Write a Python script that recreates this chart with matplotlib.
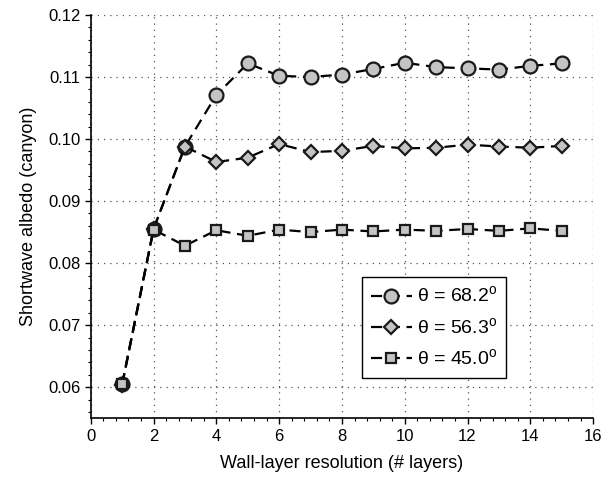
import numpy as np
import matplotlib.pyplot as plt
from matplotlib.ticker import MultipleLocator

plt.rcParams['font.family'] = ['Liberation Sans', 'DejaVu Sans']
plt.rcParams['mathtext.fontset'] = 'custom'
plt.rcParams['mathtext.rm'] = 'Liberation Sans'

layers = np.arange(1, 16)

# albedo for each zenith angle
alb_682 = [0.0605, 0.0855, 0.0988, 0.1071, 0.1122, 0.1102, 0.1100, 0.1104,
           0.1113, 0.1123, 0.1116, 0.1114, 0.1112, 0.1118, 0.1122]
alb_563 = [0.0603, 0.0855, 0.0988, 0.0963, 0.0970, 0.0992, 0.0979, 0.0981,
           0.0989, 0.0985, 0.0986, 0.0991, 0.0988, 0.0986, 0.0989]
alb_450 = [0.0605, 0.0854, 0.0828, 0.0853, 0.0844, 0.0854, 0.0850, 0.0854,
           0.0851, 0.0854, 0.0852, 0.0855, 0.0852, 0.0856, 0.0852]

labels = ['θ = 68.2$^{\\rm o}$', 'θ = 56.3$^{\\rm o}$', 'θ = 45.0$^{\\rm o}$']
markers = ['o', 'D', 's']
sizes = [10, 7, 7.5]

fig = plt.figure(figsize=(6.09, 4.84), dpi=100)
ax = fig.add_axes([0.149, 0.136, 0.825, 0.833])

for y, lab, m, ms in zip([alb_682, alb_563, alb_450], labels, markers, sizes):
    ax.plot(layers, y, linestyle=(0, (5, 3)), color='black', lw=1.6,
            marker=m, ms=ms, markerfacecolor='#c4c4c4',
            markeredgecolor='#1a1a1a', markeredgewidth=1.6, label=lab)

ax.set_xlim(0, 16)
ax.set_ylim(0.055, 0.12)
ax.xaxis.set_major_locator(MultipleLocator(2))
ax.xaxis.set_minor_locator(MultipleLocator(0.4))
ax.yaxis.set_major_locator(MultipleLocator(0.01))
ax.yaxis.set_minor_locator(MultipleLocator(0.002))
ax.yaxis.set_major_formatter(plt.FormatStrFormatter('%.2f'))
ax.tick_params(which='major', direction='out', length=4, width=1, labelsize=12)
ax.tick_params(which='minor', direction='out', length=2.5, width=0.8)
ax.grid(True, which='major', linestyle=(0, (1, 4)), color='#555555', lw=0.9)
ax.spines['top'].set_visible(False)
ax.spines['right'].set_visible(False)
ax.spines['left'].set_linewidth(1.2)
ax.spines['bottom'].set_linewidth(1.2)

ax.set_xlabel('Wall-layer resolution (# layers)', fontsize=13, labelpad=8)
ax.set_ylabel('Shortwave albedo (canyon)', fontsize=13, labelpad=8)

leg = ax.legend(loc='lower left', bbox_to_anchor=(0.54, 0.10),
                fontsize=14, fancybox=False, framealpha=1,
                edgecolor='black', handlelength=2.1, borderpad=0.45,
                labelspacing=0.55, handletextpad=0.3, borderaxespad=0)
leg.get_frame().set_linewidth(1.0)

fig.savefig('out.png', dpi=100)
